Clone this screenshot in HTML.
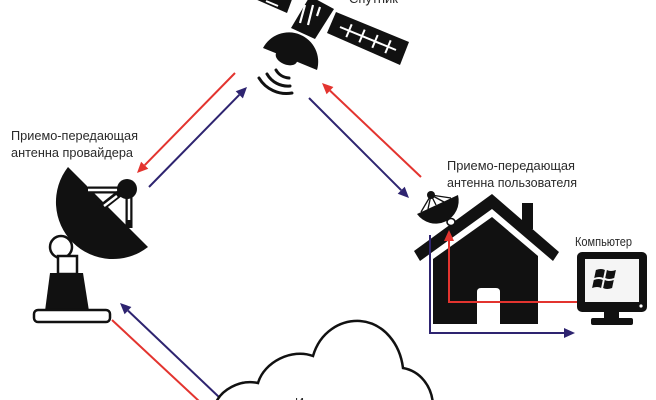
<!DOCTYPE html>
<html><head><meta charset="utf-8"><style>
html,body{margin:0;padding:0;background:#fff;}
svg{display:block;}
text{font-family:"Liberation Sans","DejaVu Sans",sans-serif;font-size:12.5px;fill:#2a2a2a;}
</style></head><body>
<svg width="656" height="400" viewBox="0 0 656 400" xmlns="http://www.w3.org/2000/svg">
<rect width="656" height="400" fill="#fff"/>

<!-- Satellite -->
<polygon points="255,-1 287,13 294,-6 262,-20" fill="#111"/>
<line x1="266" y1="1" x2="278" y2="6" stroke="#fff" stroke-width="2"/>
<polygon points="291,28 315,39 334,9 310,-4" fill="#111"/>
<line x1="300" y1="23" x2="305" y2="5" stroke="#fff" stroke-width="2.2"/>
<line x1="308" y1="25" x2="313" y2="5" stroke="#fff" stroke-width="2.2"/>
<line x1="317" y1="16" x2="320" y2="7" stroke="#fff" stroke-width="2.2"/>
<polygon points="336,12 409,42 400,65 327,33" fill="#111"/>
<line x1="340" y1="27" x2="396" y2="50" stroke="#fff" stroke-width="2"/>
<line x1="351.7" y1="24.3" x2="346.3" y2="37.1" stroke="#fff" stroke-width="2"/>
<line x1="364.7" y1="29.6" x2="359.3" y2="42.4" stroke="#fff" stroke-width="2"/>
<line x1="377.7" y1="35" x2="372.3" y2="47.8" stroke="#fff" stroke-width="2"/>
<line x1="390.7" y1="40.3" x2="385.3" y2="53.1" stroke="#fff" stroke-width="2"/>
<path d="M263,48 A29.3,29.3 0 0,1 317,70 L297,61.8 A10.5,6.5 22 0,1 276,53.3 Z" fill="#111"/>
<g fill="none" stroke="#111" stroke-width="3" stroke-linecap="round">
<path d="M292,93 A32,32 0 0,1 259,78"/>
<path d="M290,86 A24,24 0 0,1 267,74"/>
<path d="M289,78 A16,16 0 0,1 276,70"/>
</g>
<text x="349" y="3" textLength="49" lengthAdjust="spacingAndGlyphs">Спутник</text>

<!-- Arrows satellite <-> provider -->
<line x1="235" y1="73" x2="144.7" y2="165.2" stroke="#e3342f" stroke-width="2"/>
<polygon points="137,173 148.3,168.7 141.1,161.7" fill="#e3342f"/>
<line x1="149" y1="187" x2="239.3" y2="94.8" stroke="#2e2470" stroke-width="2"/>
<polygon points="247,87 242.9,98.4 235.7,91.3" fill="#2e2470"/>
<!-- satellite <-> user -->
<line x1="309" y1="98" x2="401.2" y2="190.2" stroke="#2e2470" stroke-width="2"/>
<polygon points="409,198 404.7,186.7 397.7,193.7" fill="#2e2470"/>
<line x1="421" y1="177" x2="330" y2="90.6" stroke="#e3342f" stroke-width="2"/>
<polygon points="322,83 333.4,87 326.6,94.2" fill="#e3342f"/>
<!-- provider <-> internet -->
<line x1="112" y1="320" x2="200" y2="402" stroke="#e3342f" stroke-width="2"/>
<line x1="220" y1="398" x2="128" y2="310.6" stroke="#2e2470" stroke-width="2"/>
<polygon points="120,303 131.4,307 124.6,314.2" fill="#2e2470"/>

<!-- Provider antenna -->
<text x="11" y="140" textLength="127" lengthAdjust="spacingAndGlyphs">Приемо-передающая</text>
<text x="11" y="157" textLength="122" lengthAdjust="spacingAndGlyphs">антенна провайдера</text>
<circle cx="61" cy="247" r="11" fill="#fff" stroke="#111" stroke-width="2.5"/>
<rect x="58" y="256" width="19" height="18" fill="#fff" stroke="#111" stroke-width="2.5"/>
<polygon points="50,273 83,273 89,311 45,311" fill="#111"/>
<rect x="34" y="310" width="76" height="12" rx="4" fill="#fff" stroke="#111" stroke-width="2.5"/>
<path d="M68,167 A57,57 0 0,0 148,247 Z" fill="#111"/>
<g stroke-linecap="butt">
<line x1="88" y1="190" x2="122" y2="190" stroke="#111" stroke-width="7"/>
<line x1="88" y1="190" x2="120" y2="190" stroke="#fff" stroke-width="2.5"/>
<line x1="129" y1="195" x2="129" y2="228" stroke="#111" stroke-width="7"/>
<line x1="129" y1="198" x2="129" y2="220" stroke="#fff" stroke-width="2.5"/>
<line x1="120" y1="193" x2="101" y2="208" stroke="#111" stroke-width="7"/>
<line x1="117" y1="196" x2="104" y2="206" stroke="#fff" stroke-width="2.5"/>
</g>
<circle cx="127" cy="189" r="10" fill="#111"/>

<!-- User antenna + house -->
<text x="447" y="170" textLength="128" lengthAdjust="spacingAndGlyphs">Приемо-передающая</text>
<text x="447" y="187" textLength="130" lengthAdjust="spacingAndGlyphs">антенна пользователя</text>
<polygon points="414,251 492,194 559,252 553,261 492,209 420,261" fill="#111"/>
<rect x="522" y="203" width="11" height="26" fill="#111"/>
<polygon points="433,259 492,217 538,256 538,324 433,324" fill="#111"/>
<path d="M477,324 V292 Q477,288 481,288 H496 Q500,288 500,292 V324 Z" fill="#fff"/>
<ellipse cx="451" cy="222" rx="4" ry="3.5" fill="#fff" stroke="#111" stroke-width="1.6"/>
<path d="M417,214 A23,23 0 0,0 458,195 Z" fill="#111"/>
<g stroke="#111" stroke-width="1.3">
<line x1="431" y1="195" x2="421" y2="212"/>
<line x1="431" y1="195" x2="428" y2="209"/>
<line x1="431" y1="195" x2="436" y2="205"/>
<line x1="431" y1="195" x2="444" y2="202"/>
<line x1="431" y1="195" x2="451" y2="198"/>
</g>
<circle cx="431" cy="195" r="4" fill="#111"/>

<!-- Local connections -->
<polyline points="430,235 430,333 565,333" fill="none" stroke="#2e2470" stroke-width="2"/>
<polygon points="575,333 564,328 564,338" fill="#2e2470"/>
<polyline points="577,302 449,302 449,241" fill="none" stroke="#e3342f" stroke-width="2"/>
<polygon points="449,230 444,241 454,241" fill="#e3342f"/>

<!-- Computer -->
<text x="575" y="246" textLength="57" lengthAdjust="spacingAndGlyphs">Компьютер</text>
<rect x="577" y="252" width="70" height="60" rx="5" fill="#111"/>
<rect x="585" y="259" width="54" height="43" fill="#f5f5f5"/>
<circle cx="641" cy="306" r="1.6" fill="#fff"/>
<rect x="604" y="311" width="15" height="8" fill="#111"/>
<rect x="591" y="318" width="42" height="7" rx="2" fill="#111"/>
<g transform="translate(604 279) skewX(-12)" fill="#111">
<path d="M-10,-9 Q-5,-11 -1,-9 L-1,-1 Q-5,-3 -10,-1 Z"/>
<path d="M1,-9 Q5,-7 10,-9 L10,-1 Q5,1 1,-1 Z"/>
<path d="M-10,1 Q-5,-1 -1,1 L-1,9 Q-5,7 -10,9 Z"/>
<path d="M1,1 Q5,3 10,1 L10,9 Q5,11 1,9 Z"/>
</g>

<!-- Cloud -->
<path d="M215,405 C220,390 240,379 258,383 C264,362 292,348 313,356 C320,332 340,320 360,321 C384,323 400,344 403,368 C420,371 432,386 433,405" fill="#fff" stroke="#111" stroke-width="2.5" stroke-linejoin="miter"/>
<text x="295" y="407" textLength="55" lengthAdjust="spacingAndGlyphs">Интернет</text>
</svg>
</body></html>
